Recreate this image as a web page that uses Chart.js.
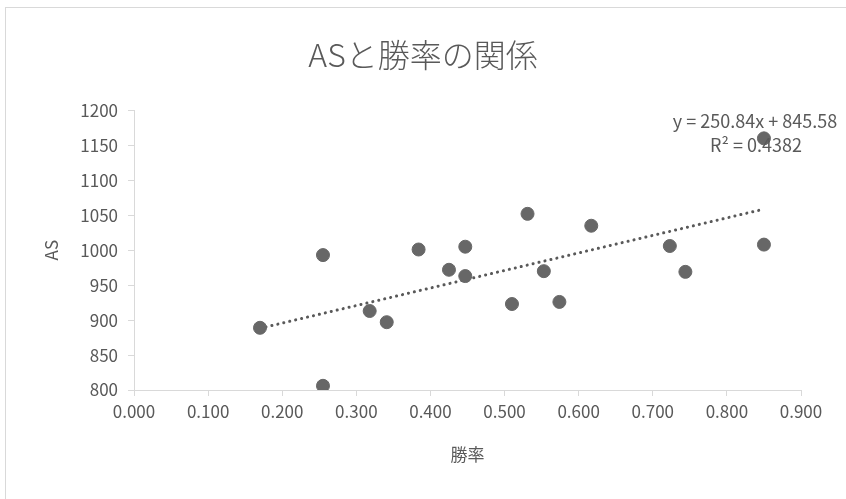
<!DOCTYPE html>
<html lang="ja">
<head>
  <meta charset="UTF-8">
  <title>ASと勝率の関係</title>
  <script src="https://cdn.jsdelivr.net/npm/chart.js"></script>
  <style>
    body {
      margin: 0;
      background: #fff;
      font-family: "Noto Sans CJK JP", sans-serif;
    }
    .frame {
      position: absolute;
      left: 5px;
      top: 7px;
      width: 900px;
      height: 600px;
      border: 1px solid #d9d9d9;
    }
    #asChart {
      position: absolute;
      left: 0;
      top: 0;
    }
  </style>
</head>
<body>
  <div class="frame"></div>
  <canvas id="asChart" width="846" height="499"></canvas>

  <script>
    // 勝率 (x) と AS (y)
    const winRates = [0.170, 0.255, 0.255, 0.318, 0.341, 0.384, 0.425, 0.447, 0.447,
                      0.510, 0.531, 0.553, 0.574, 0.617, 0.723, 0.744, 0.850, 0.850];
    const asValues = [889, 993, 806, 913, 897, 1001, 972, 1005, 963,
                      923, 1052, 970, 926, 1035, 1006, 969, 1008, 1160];
    const xTicks = [0, 0.1, 0.2, 0.3, 0.4, 0.5, 0.6, 0.7, 0.8, 0.9];
    const yTicks = [800, 850, 900, 950, 1000, 1050, 1100, 1150, 1200];

    // 近似曲線（グラフ上の式）
    const trendSlope = 250.84;
    const trendIntercept = 845.58;
    const trendR2 = 0.4382;

    const textColor = '#595959';
    const axisColor = '#d9d9d9';
    const fontFamily = '"Noto Sans CJK JP", sans-serif';

    const points = winRates.map((x, i) => ({ x: x, y: asValues[i] }));
    const xMin = Math.min(...winRates);
    const xMax = Math.max(...winRates);
    const trendPoints = [xMin, xMax].map(x => ({ x: x, y: trendSlope * x + trendIntercept }));

    const equationLabel = {
      id: 'equationLabel',
      afterDraw(chart) {
        const ctx = chart.ctx;
        const area = chart.chartArea;
        ctx.save();
        ctx.fillStyle = textColor;
        ctx.font = '18px ' + fontFamily;
        ctx.textAlign = 'center';
        ctx.textBaseline = 'middle';
        ctx.fillText('y = ' + trendSlope + 'x + ' + trendIntercept, area.right - 46, area.top + 11);
        ctx.fillText('R² = ' + trendR2, area.right - 45, area.top + 35);
        ctx.restore();
      }
    };

    const ctx = document.getElementById('asChart').getContext('2d');
    new Chart(ctx, {
      type: 'scatter',
      data: {
        datasets: [{
          label: 'AS',
          data: points,
          backgroundColor: '#676767',
          borderColor: '#676767',
          pointRadius: 6.5,
          pointHoverRadius: 6.5,
          order: 1
        }, {
          label: '線形 (AS)',
          type: 'line',
          data: trendPoints,
          borderColor: '#595959',
          borderWidth: 3,
          borderDash: [0.1, 6],
          borderCapStyle: 'round',
          pointRadius: 0,
          fill: false,
          order: 2
        }]
      },
      plugins: [equationLabel],
      options: {
        responsive: false,
        animation: false,
        layout: { padding: 0 },
        plugins: {
          legend: { display: false },
          tooltip: { enabled: false },
          title: {
            display: true,
            text: 'ASと勝率の関係',
            color: textColor,
            font: { family: fontFamily, size: 32, weight: 300 },
            padding: { top: 36, bottom: 36 }
          }
        },
        scales: {
          x: {
            type: 'linear',
            min: 0,
            max: 0.9,
            afterBuildTicks: s => { s.ticks = xTicks.map(v => ({ value: v })); },
            afterFit: s => { s.height = 109; },
            grid: { drawOnChartArea: false, drawTicks: true, tickLength: 6, color: axisColor },
            border: { display: true, color: axisColor },
            ticks: {
              color: textColor,
              padding: 5,
              font: { family: fontFamily, size: 17 },
              callback: v => v.toFixed(3)
            },
            title: {
              display: true,
              text: '勝率',
              color: textColor,
              font: { family: fontFamily, size: 17 },
              padding: { top: 4, bottom: 34 }
            }
          },
          y: {
            min: 800,
            max: 1200,
            afterBuildTicks: s => { s.ticks = yTicks.map(v => ({ value: v })); },
            afterFit: s => { s.width = 134; },
            grid: { drawOnChartArea: false, drawTicks: true, tickLength: 6, color: axisColor },
            border: { display: true, color: axisColor },
            ticks: {
              color: textColor,
              padding: 10,
              font: { family: fontFamily, size: 17 },
              callback: v => String(v)
            },
            title: {
              display: true,
              text: 'AS',
              color: textColor,
              font: { family: fontFamily, size: 17 },
              padding: { top: 41, bottom: 4 }
            }
          },
          // 右側の余白用（何も描かない）
          rightSpace: {
            type: 'linear',
            position: 'right',
            display: true,
            afterFit: s => { s.width = 45; },
            grid: { display: false },
            border: { display: false },
            ticks: { display: false }
          }
        }
      }
    });
  </script>
</body>
</html>
